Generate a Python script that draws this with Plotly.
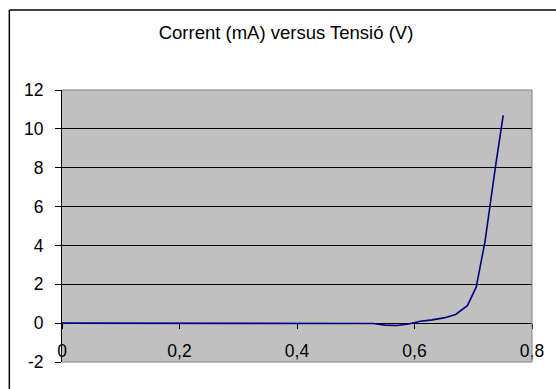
import plotly.graph_objects as go

# Diode I-V measurement: voltage (V) and current (mA)
tensio = [0, 0.1, 0.2, 0.3, 0.4, 0.5, 0.53, 0.55, 0.57, 0.59, 0.61, 0.63,
          0.65, 0.67, 0.69, 0.705, 0.72, 0.738, 0.751]
corrent = [0, 0, 0, 0, 0, 0, -0.02, -0.1, -0.12, -0.04, 0.1, 0.17,
           0.27, 0.45, 0.9, 1.85, 4.2, 8.1, 10.7]

x_ticks = [0, 0.2, 0.4, 0.6, 0.8]
x_labels = ["0", "0,2", "0,4", "0,6", "0,8"]
y_ticks = [-2, 0, 2, 4, 6, 8, 10, 12]
y_labels = ["-2", "0", "2", "4", "6", "8", "10", "12"]

W, H = 556, 389
L, R, T, B = 62, 21, 90, 27
pw, ph = W - L - R, H - T - B

font = "Liberation Sans, Arial, sans-serif"

fig = go.Figure()
fig.add_trace(go.Scatter(
    x=tensio, y=corrent, mode="lines",
    line=dict(color="#000080", width=1.6),
    showlegend=False,
))

y_min, y_max = -2, 12
fig.update_layout(
    width=W, height=H,
    margin=dict(l=L, r=R, t=T, b=B),
    paper_bgcolor="white",
    plot_bgcolor="#C0C0C0",
    font=dict(family=font, size=17.5, color="black"),
    title=dict(text="Corrent (mA) versus Tensió (V)", x=(W / 2 + 8) / W,
               xanchor="center", y=1 - 33 / H, yanchor="middle",
               font=dict(size=18.5)),
    xaxis=dict(
        range=[0, 0.8], tickvals=x_ticks, ticktext=x_labels,
        showgrid=False, zeroline=False,
        showline=True, linecolor="black", linewidth=1,
        ticks="outside", ticklen=5, tickcolor="black",
        anchor="free", position=(0 - y_min) / (y_max - y_min),
        layer="below traces", ticklabelstandoff=7,
    ),
    yaxis=dict(
        range=[y_min, y_max], tickvals=y_ticks, ticktext=y_labels,
        showgrid=True, gridcolor="black", gridwidth=1,
        zeroline=False,
        showline=True, linecolor="black", linewidth=1,
        ticks="outside", ticklen=6, tickcolor="black",
        ticklabelstandoff=8,
    ),
)

# Plot-area frame (top, right, bottom) in grey
for x0, y0, x1, y1 in [(0, 1, 1, 1), (1, 0, 1, 1), (0, 0, 1, 0)]:
    fig.add_shape(type="line", xref="paper", yref="paper",
                  x0=x0, y0=y0, x1=x1, y1=y1,
                  line=dict(color="#808080", width=1), layer="above")

# Chart outer border
bx = (9 - L) / pw
by = (H - B - 10) / ph
fig.add_shape(type="line", xref="paper", yref="paper",
              x0=bx, y0=by, x1=bx, y1=-1, line=dict(color="black", width=1.5))
fig.add_shape(type="line", xref="paper", yref="paper",
              x0=bx, y0=by, x1=2, y1=by, line=dict(color="black", width=1.5))

fig.write_html("out.html")
